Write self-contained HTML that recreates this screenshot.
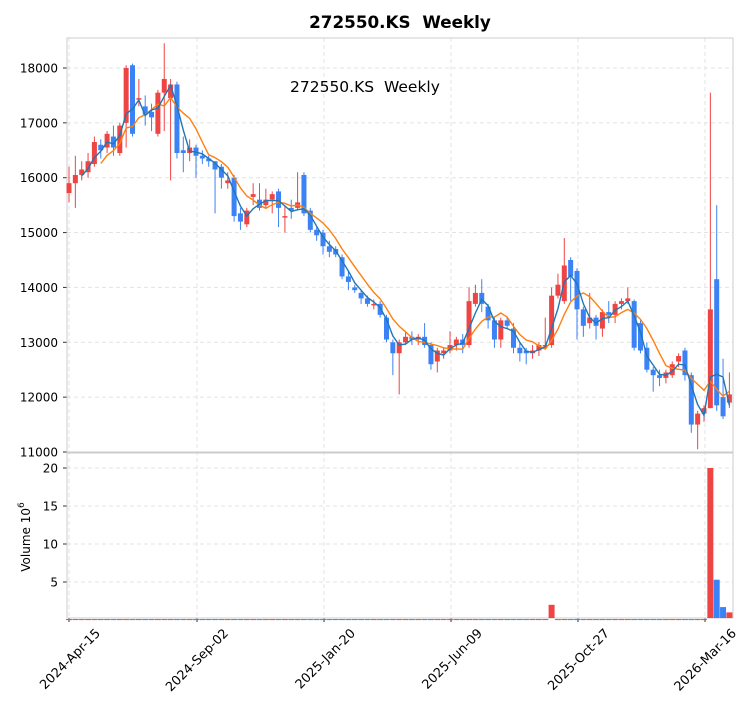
<!DOCTYPE html><html><head><meta charset="utf-8"><style>body{margin:0;background:#fff}svg{font-family:"DejaVu Sans","Liberation Sans",sans-serif}</style></head><body>
<svg id="s" width="753" height="712" xmlns="http://www.w3.org/2000/svg">
<rect width="753" height="712" fill="#fff"/>
<text x="400" y="28" text-anchor="middle" font-size="16.8" font-weight="bold">272550.KS&#160; Weekly</text>
<g id="grid"></g>
<rect x="67" y="38" width="666" height="414" fill="none" stroke="#ccc"/>
<rect x="67" y="453" width="666" height="165" fill="none" stroke="#ccc"/>
<g id="c"></g>
<text x="290" y="92" font-size="15.5">272550.KS&#160; Weekly</text>
<text transform="translate(30,537) rotate(-90)" text-anchor="middle" font-size="12">Volume  10<tspan dy="-6" font-size="9">6</tspan></text>
</svg>
<script>
const D=[[15.72,15.9,16.2,15.55],[15.9,16.05,16.4,15.45],[16.05,16.15,16.3,15.95],[16.1,16.3,16.45,16.0],[16.25,16.65,16.75,16.2],[16.6,16.5,16.7,16.35],[16.55,16.8,16.85,16.45],[16.75,16.55,16.95,16.4],[16.45,16.95,17.0,16.4],[17.0,18.0,18.05,16.55],[18.05,16.8,18.08,16.75],[17.45,17.45,17.8,17.3],[17.3,17.15,17.5,16.95],[17.2,17.1,17.35,16.85],[16.8,17.55,17.6,16.75],[17.55,17.8,18.45,16.85],[17.45,17.7,17.8,15.95],[17.7,16.45,17.75,16.35],[16.5,16.45,16.75,16.1],[16.45,16.55,16.7,16.3],[16.55,16.4,16.6,16.0],[16.4,16.35,16.5,16.25],[16.35,16.3,16.4,16.2],[16.3,16.15,16.3,15.35],[16.2,16.0,16.25,15.8],[15.9,15.95,16.1,15.8],[16.0,15.3,16.05,15.2],[15.35,15.2,15.45,15.05],[15.15,15.4,15.45,15.1],[15.65,15.7,15.9,15.5],[15.6,15.45,15.9,15.4],[15.5,15.6,15.8,15.45],[15.6,15.7,15.75,15.35],[15.75,15.45,15.8,15.1],[15.3,15.3,15.5,15.0],[15.45,15.4,15.6,15.25],[15.45,15.55,16.1,15.4],[16.05,15.35,16.1,15.3],[15.4,15.05,15.45,15.0],[15.05,14.95,15.1,14.85],[15.0,14.75,15.05,14.6],[14.75,14.65,14.85,14.55],[14.7,14.6,14.75,14.55],[14.55,14.2,14.6,14.15],[14.2,14.1,14.3,13.95],[14.0,13.95,14.05,13.9],[13.9,13.8,13.95,13.7],[13.8,13.7,13.85,13.65],[13.7,13.7,13.78,13.6],[13.7,13.5,13.75,13.45],[13.45,13.05,13.5,13.0],[13.0,12.8,13.05,12.4],[12.8,13.0,13.05,12.05],[13.0,13.1,13.2,12.95],[13.1,13.05,13.2,12.95],[13.05,13.1,13.15,12.95],[13.1,12.95,13.35,12.9],[12.95,12.6,13.0,12.5],[12.65,12.85,12.9,12.45],[12.8,12.85,12.9,12.7],[12.85,12.95,13.2,12.8],[12.95,13.05,13.1,12.85],[13.05,12.95,13.15,12.8],[12.95,13.75,14.0,12.9],[13.7,13.9,14.05,13.65],[13.9,13.7,14.15,13.55],[13.65,13.4,13.7,13.25],[13.4,13.05,13.45,12.9],[13.05,13.4,13.45,12.9],[13.4,13.3,13.45,13.25],[13.25,12.9,13.35,12.8],[12.9,12.8,13.0,12.65],[12.85,12.8,12.9,12.6],[12.8,12.85,12.95,12.7],[12.85,12.95,13.0,12.75],[12.95,12.95,13.45,12.9],[12.95,13.85,14.0,12.9],[13.85,14.05,14.25,13.8],[13.75,14.4,14.9,13.7],[14.5,14.2,14.55,13.75],[14.3,13.6,14.35,13.05],[13.6,13.3,13.65,13.1],[13.35,13.45,13.9,13.25],[13.45,13.3,13.5,13.05],[13.25,13.55,13.6,13.1],[13.55,13.5,13.75,13.35],[13.5,13.7,13.75,13.35],[13.7,13.75,13.8,13.6],[13.75,13.8,14.0,13.7],[13.75,12.9,13.78,12.85],[13.35,12.85,13.4,12.8],[12.9,12.5,13.0,12.45],[12.5,12.4,12.55,12.1],[12.4,12.35,12.5,12.2],[12.35,12.45,12.5,12.25],[12.4,12.6,12.65,12.35],[12.65,12.75,12.8,12.55],[12.85,12.4,12.9,12.3],[12.4,11.5,12.45,11.35],[11.5,11.7,11.75,11.05],[11.7,11.8,11.85,11.55],[11.8,13.6,17.55,11.8],[14.15,11.85,15.5,11.75],[12.0,11.65,12.7,11.6],[11.9,12.05,12.45,11.8]];
const V={76:2,101:20,102:5.3,103:1.7,104:1.0};
const NS="http://www.w3.org/2000/svg";
function el(p,t,a,tx){const e=document.createElementNS(NS,t);for(const k in a)e.setAttribute(k,a[k]);if(tx!==undefined)e.textContent=tx;document.getElementById(p).appendChild(e);}
const X=i=>69+i*6.35, Y=v=>452-(v-11)*54.86, VY=v=>620-v*7.6;
const ticks=[[69,"2024-Apr-15"],[197,"2024-Sep-02"],[324,"2025-Jan-20"],[451,"2025-Jun-09"],[578,"2025-Oct-27"],[705,"2026-Mar-16"]];
for(const [x,l] of ticks){el("grid","line",{x1:x,x2:x,y1:38,y2:618,stroke:"#e3e3e3","stroke-dasharray":"4,3"});el("grid","line",{x1:x,x2:x,y1:618,y2:622,stroke:"#333"});
el("grid","text",{x:0,y:0,"font-size":12.8,"text-anchor":"end",transform:`translate(${x+32},${634}) rotate(-45)`},l);}
for(let v=11;v<=18;v++){const y=Y(v);el("grid","line",{x1:67,x2:733,y1:y,y2:y,stroke:"#e3e3e3","stroke-dasharray":"4,3"});el("grid","line",{x1:63,x2:67,y1:y,y2:y,stroke:"#333"});el("grid","text",{x:58,y:y+4.5,"font-size":12,"text-anchor":"end"},v*1000);}
for(const v of [5,10,15,20]){const y=VY(v);el("grid","line",{x1:67,x2:733,y1:y,y2:y,stroke:"#e3e3e3","stroke-dasharray":"4,3"});el("grid","line",{x1:63,x2:67,y1:y,y2:y,stroke:"#333"});el("grid","text",{x:58,y:y+4.5,"font-size":12,"text-anchor":"end"},v);}
D.forEach((d,i)=>{const[o,c,h,l]=d;const col=c>=o?"#ef4444":"#3b82f6";const x=X(i);
el("c","line",{x1:x,x2:x,y1:Y(h),y2:Y(l),stroke:col,"stroke-width":1});
const t=Y(Math.max(o,c)),b=Y(Math.min(o,c));el("c","rect",{x:x-2.5,y:t,width:5,height:Math.max(b-t,1.5),fill:col});
const v=V[i]||0.12;el("c","rect",{x:x-3,y:VY(v),width:6,height:Math.max(620-VY(v)-2,1),fill:col});});
function ma(n,col){let p="";for(let i=n-1;i<D.length;i++){let s=0;for(let j=i-n+1;j<=i;j++)s+=D[j][1];p+=(p?"L":"M")+X(i).toFixed(1)+","+Y(s/n).toFixed(1);}el("c","path",{d:p,fill:"none",stroke:col,"stroke-width":1.4});}
ma(6,"#ff7f0e");ma(3,"#1f77b4");
</script></body></html>
